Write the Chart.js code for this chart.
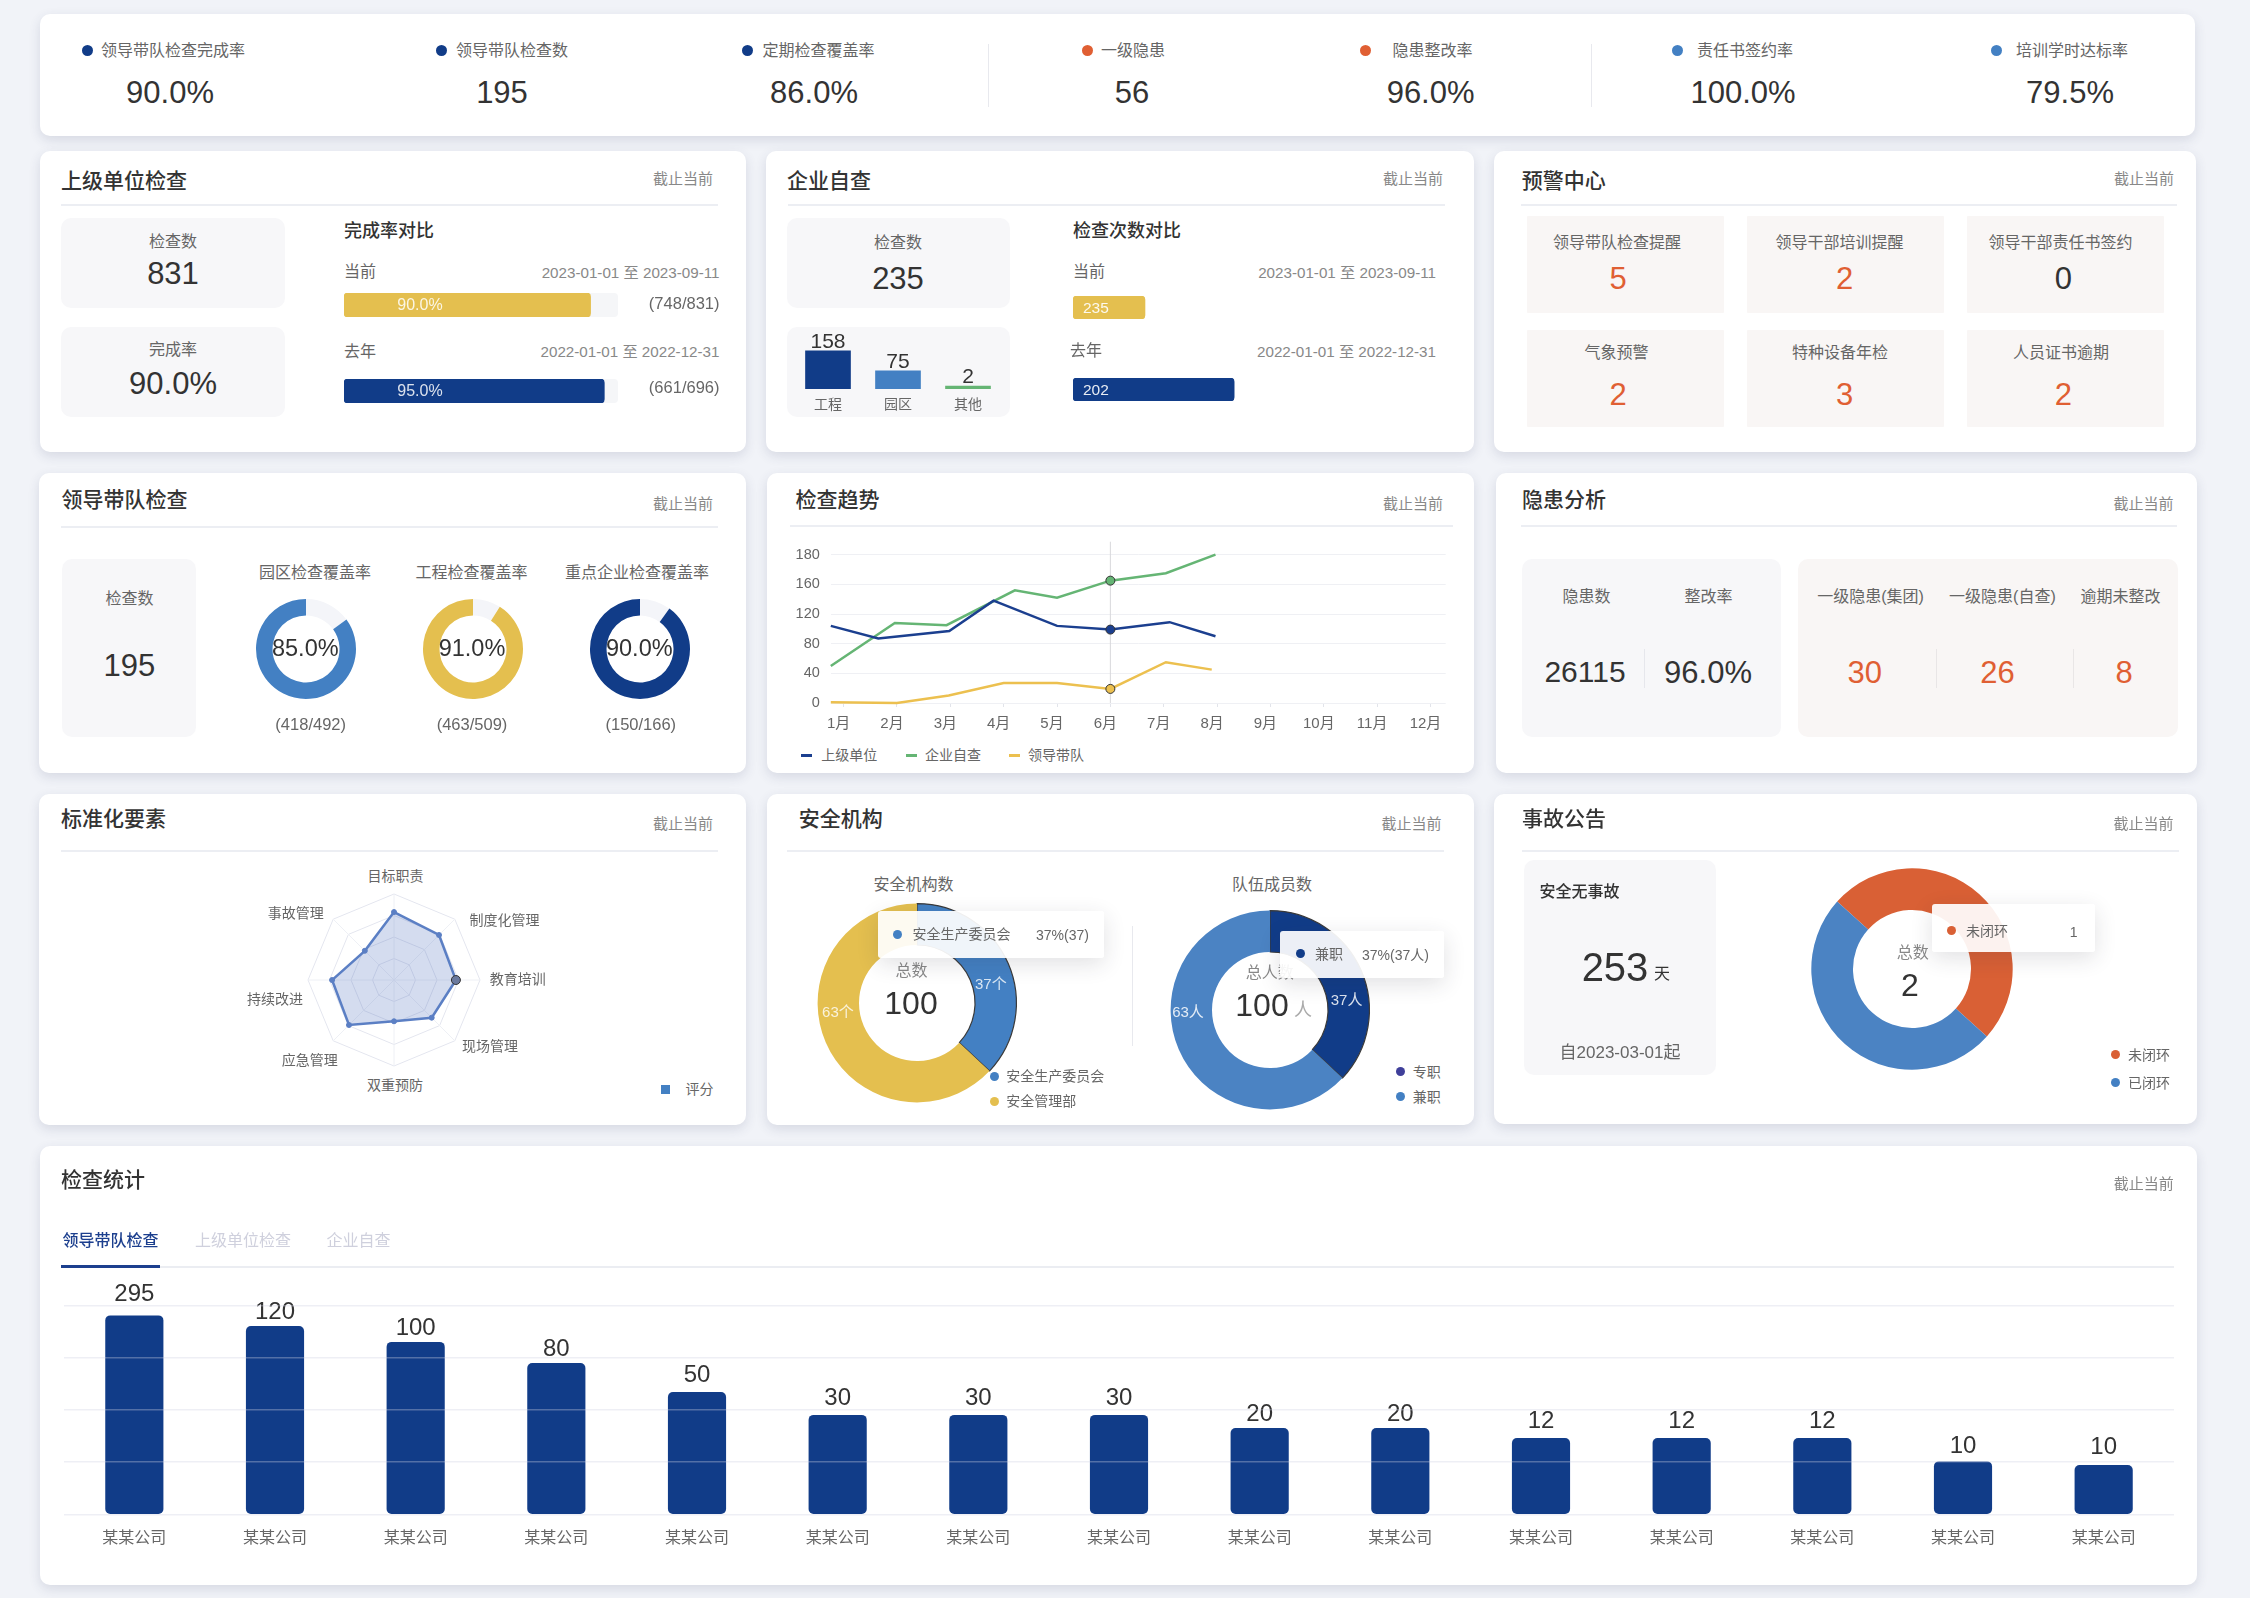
<!DOCTYPE html>
<html lang="zh-CN">
<head>
<meta charset="utf-8">
<title>安全看板</title>
<style>
  html, body { margin: 0; padding: 0; width: 2250px; height: 1598px; overflow: hidden; background: #f1f3f8;
    font-family: "Liberation Sans", "Noto Sans CJK SC", sans-serif; }
  #stage { position: relative; width: 2250px; height: 1598px; }
  .card { position: absolute; background: #fff; border-radius: 10px; box-shadow: 0 4px 12px rgba(50,60,100,.14); }
  .box { position: absolute; }
  .t { position: absolute; white-space: nowrap; line-height: 1; }
  .tip { position: absolute; background: rgba(255,255,255,.92); border-radius: 3px; box-shadow: 0 6px 22px rgba(40,40,60,.14); }
  canvas { position: absolute; }
</style>
<script src="https://cdn.jsdelivr.net/npm/chart.js"></script>
</head>
<body>
<div id="stage"></div>
<script>
// ========== DATA ==========
const kpiLabels = ['领导带队检查完成率', '领导带队检查数', '定期检查覆盖率', '一级隐患', '隐患整改率', '责任书签约率', '培训学时达标率'];
const kpiValues = ['90.0%', '195', '86.0%', '56', '96.0%', '100.0%', '79.5%'];

const upperRates = [90, 95];
const upperRateTexts = ['90.0%', '95.0%'];
const upperCounts = ['(748/831)', '(661/696)'];
const selfCounts = [235, 202];
const selfCountMax = [1185, 455]; // the picture draws these two bars on different lengths
const selfTypes = ['工程', '园区', '其他'];
const selfTypeCounts = [158, 75, 2];

const alertLabels = ['领导带队检查提醒', '领导干部培训提醒', '领导干部责任书签约', '气象预警', '特种设备年检', '人员证书逾期'];
const alertValues = [5, 2, 0, 2, 3, 2];

const coverLabels = ['园区检查覆盖率', '工程检查覆盖率', '重点企业检查覆盖率'];
const coverRates = [85, 91, 90];
const coverCounts = ['(418/492)', '(463/509)', '(150/166)'];

const months = ['1月', '2月', '3月', '4月', '5月', '6月', '7月', '8月', '9月', '10月', '11月', '12月'];
const trendTicks = ['0', '40', '80', '120', '160', '180']; // printed like this, gridlines are evenly spaced
const trendNames = ['上级单位', '企业自查', '领导带队'];
// points sit a bit off the month ticks in the picture, so x is read as well
const upperX = [0.76, 1.65, 2.98, 3.81, 5, 6, 7.11, 7.97];
const upperY = [104, 87, 97, 138, 104, 99, 109, 90];
const selfX = [0.76, 1.96, 2.93, 4.21, 5, 6, 7.04, 7.97];
const selfY = [50, 108, 105, 152, 142, 165, 175, 200];
const leaderX = [0.76, 2, 2.97, 4, 5, 6, 7.04, 7.9];
const leaderY = [1, 0, 10, 27, 27, 19, 55, 45];

const radarLabels = ['目标职责', '制度化管理', '教育培训', '现场管理', '双重预防', '应急管理', '持续改进', '事故管理'];
const radarScores = [79, 74, 72, 62, 48, 74, 72, 48];

const orgNames = ['安全生产委员会', '安全管理部'];
const orgCounts = [37, 63];
const teamNames = ['专职', '兼职'];
const teamCounts = [37, 63];
const accidentNames = ['未闭环', '已闭环'];
const accidentCounts = [1, 1];

const statCompanies = Array(15).fill('某某公司');
const statPrinted = [295, 120, 100, 80, 50, 30, 30, 30, 20, 20, 12, 12, 12, 10, 10];
// bar heights read against the gridlines (0-100), the printed numbers do not scale with them
const statHeights = [95.2, 90.1, 82.5, 72.4, 58.5, 47.5, 47.5, 47.5, 41.2, 41.2, 36.4, 36.4, 36.4, 25.2, 23.5];

// ========== COLORS ==========
const NAVY = '#113c88', BLUE = '#4380c3', SOFTBLUE = '#4b83c3', GOLD = '#e4bf4f', ORANGE = '#e05f33', RUST = '#d96035';
const GREEN = '#65b574', INK = '#333', TEXT = '#666', MUTED = '#888', PANEL = '#f7f7f9', WARM = '#f9f6f5';

// ========== HELPERS ==========
const stage = document.getElementById('stage');
Chart.defaults.font.family = '"Liberation Sans", "Noto Sans CJK SC", sans-serif';
Chart.defaults.animation = false;
Chart.defaults.responsive = false;
Chart.defaults.plugins.legend.display = false;
Chart.defaults.plugins.tooltip.enabled = false;

function card(x, y, w, h) {
  const d = document.createElement('div');
  d.className = 'card';
  d.style.cssText = `left:${x}px;top:${y}px;width:${w}px;height:${h}px`;
  stage.appendChild(d);
}
function box(x, y, w, h, bg, radius = 10, cls = 'box') {
  const d = document.createElement('div');
  d.className = cls;
  d.style.cssText = `left:${x}px;top:${y}px;width:${w}px;height:${h}px;background:${bg};border-radius:${radius}px`;
  stage.appendChild(d);
}
function tip(x, y, w, h) {
  const d = document.createElement('div');
  d.className = 'tip';
  d.style.cssText = `left:${x}px;top:${y}px;width:${w}px;height:${h}px`;
  stage.appendChild(d);
}
// a = 'l' | 'c' | 'r', y is the vertical middle of the text
function put(text, x, y, size = 16, color = TEXT, a = 'c', weight = 400) {
  const d = document.createElement('div');
  d.className = 't';
  const tx = a === 'c' ? '-50%' : a === 'r' ? '-100%' : '0';
  d.style.cssText = `left:${x}px;top:${y}px;font-size:${size}px;color:${color};font-weight:${weight};transform:translate(${tx},-50%)`;
  d.textContent = text;
  stage.appendChild(d);
}
function dot(x, y, color, r = 5.5) {
  box(x - r, y - r, r * 2, r * 2, color, r);
}
function head(title, x, y, x0, x1, rightX, divY, rightY) {
  put(title, x, y, 21, INK, 'l', 500);
  put('截止当前', rightX, rightY, 15, MUTED, 'r');
  box(x0, divY, x1 - x0, 2, '#eceef3', 0);
}
function canvas(x, y, w, h) {
  const c = document.createElement('canvas');
  c.width = w; c.height = h;
  c.style.cssText = `left:${x}px;top:${y}px;width:${w}px;height:${h}px`;
  stage.appendChild(c);
  return c;
}

// writes text above each bar of the first dataset
const barTexts = {
  id: 'barTexts',
  afterDatasetsDraw(chart, _, o) {
    const ctx = chart.ctx;
    ctx.save();
    ctx.font = o.font;
    ctx.fillStyle = o.color;
    ctx.textAlign = 'center';
    ctx.textBaseline = 'middle';
    chart.getDatasetMeta(0).data.forEach((bar, i) => ctx.fillText(o.texts[i], bar.x, bar.y - (o.gaps ? o.gaps[i] : o.gap)));
    ctx.restore();
  }
};

function rateBar(x, y, w, h, value, max, color) {
  new Chart(canvas(x, y, w, h), {
    type: 'bar',
    data: { labels: [''], datasets: [{ data: [value], backgroundColor: color, borderRadius: 4, borderSkipped: false, barPercentage: 1, categoryPercentage: 1 }] },
    options: { indexAxis: 'y', scales: { x: { display: false, min: 0, max }, y: { display: false } } }
  });
}
function donut(cx, cy, radius, hole, data, colors, extra = {}) {
  const half = Math.ceil(radius) + 4;
  new Chart(canvas(Math.round(cx - half), Math.round(cy - half), half * 2, half * 2), {
    type: 'doughnut',
    data: { labels: data.map(String), datasets: [{ data, backgroundColor: colors, borderWidth: extra.borderWidth || 0, borderColor: extra.borderColor || '#fff', hoverOffset: 0 }] },
    options: { radius, cutout: (hole / radius * 100) + '%', rotation: extra.rotation || 0 }
  });
}

// ========== TOP KPI ==========
card(40, 14, 2155, 122);
const kpiDots = [87, 441, 747.5, 1087, 1365, 1677, 1996.6];
const kpiTextX = [101, 456, 762.5, 1101, 1392.6, 1697, 2016];
const kpiValueX = [170, 502, 814, 1132, 1430.6, 1743, 2070];
const kpiColors = [NAVY, NAVY, NAVY, ORANGE, ORANGE, BLUE, BLUE];
kpiLabels.forEach((label, i) => {
  dot(kpiDots[i], 50.7, kpiColors[i]);
  put(label, kpiTextX[i], 51, 16, TEXT, 'l');
  put(kpiValues[i], kpiValueX[i], 92, 31, INK);
});
box(988, 44, 1, 63, '#e8e9ee', 0);
box(1590.6, 44, 1, 63, '#e8e9ee', 0);

// ========== 上级单位检查 ==========
card(40, 151, 706, 301);
head('上级单位检查', 61, 180, 61, 718, 713, 204, 178);
box(61, 218, 224, 90, PANEL);
put('检查数', 173, 242);
put('831', 173, 273, 31, INK);
box(61, 327, 224, 90, PANEL);
put('完成率', 173, 350);
put('90.0%', 173, 383, 31, INK);
put('完成率对比', 344, 231, 18, INK, 'l', 500);
put('当前', 344, 272, 16, TEXT, 'l');
put('2023-01-01 至 2023-09-11', 719.5, 273, 15.2, MUTED, 'r');
box(344, 293, 274, 24, '#f5f6f8', 4);
rateBar(344, 293, 274, 24, upperRates[0], 100, GOLD);
put(upperRateTexts[0], 420, 305, 16, 'rgba(255,255,255,.85)');
put(upperCounts[0], 719.5, 303, 16.5, TEXT, 'r');
put('去年', 344, 352, 16, TEXT, 'l');
put('2022-01-01 至 2022-12-31', 719.5, 352, 15.2, MUTED, 'r');
box(344, 379, 274, 24, '#f5f6f8', 4);
rateBar(344, 379, 274, 24, upperRates[1], 100, NAVY);
put(upperRateTexts[1], 420, 391, 16, 'rgba(255,255,255,.85)');
put(upperCounts[1], 719.5, 387, 16.5, TEXT, 'r');

// ========== 企业自查 ==========
card(766, 151, 708, 301);
head('企业自查', 787, 180, 788, 1445, 1443, 204, 178);
box(787, 218, 223, 90, PANEL);
put('检查数', 898, 243);
put(String(selfCounts[0]), 898, 278, 31, INK);
box(787, 327, 223, 90, PANEL);
new Chart(canvas(793, 320, 210, 97), {
  type: 'bar',
  data: { labels: selfTypes, datasets: [{ data: selfTypeCounts, backgroundColor: [NAVY, BLUE, GREEN], barThickness: 45, minBarLength: 3 }] },
  options: {
    layout: { padding: { top: 10 } },
    plugins: { barTexts: { texts: selfTypeCounts, font: '21px "Liberation Sans"', color: INK, gap: 9 } },
    scales: {
      x: { grid: { display: false, drawTicks: false }, border: { display: false }, ticks: { color: TEXT, font: { size: 14 }, padding: 8 }, afterFit: s => { s.height = 28; } },
      y: { min: 0, max: 245, display: false }
    }
  },
  plugins: [barTexts]
});
put('检查次数对比', 1073, 231, 18, INK, 'l', 500);
put('当前', 1073, 272, 16, TEXT, 'l');
put('2023-01-01 至 2023-09-11', 1436, 273, 15.2, MUTED, 'r');
rateBar(1073, 296, 363, 23, selfCounts[0], selfCountMax[0], GOLD);
put(String(selfCounts[0]), 1083, 308, 15.5, 'rgba(255,255,255,.9)', 'l');
put('去年', 1070, 351, 16, TEXT, 'l');
put('2022-01-01 至 2022-12-31', 1436, 352, 15.2, MUTED, 'r');
rateBar(1073, 378, 363, 23, selfCounts[1], selfCountMax[1], NAVY);
put(String(selfCounts[1]), 1083, 390, 15.5, 'rgba(255,255,255,.9)', 'l');

// ========== 预警中心 ==========
card(1494, 151, 702, 301);
head('预警中心', 1521.7, 180, 1521, 2177, 2174, 204, 178);
const tileX = [1527.4, 1747, 1967];
const tileY = [216, 330];
const alertTextX = [1617, 1839.5, 2060.5, 1616.5, 1840, 2061];
const alertValueX = [1618, 1844.5, 2063.3];
alertLabels.forEach((label, i) => {
  const row = i < 3 ? 0 : 1, col = i % 3;
  box(tileX[col], tileY[row], 197, 97, WARM, 1);
  put(label, alertTextX[i], row ? 352.7 : 243, 16);
  put(String(alertValues[i]), alertValueX[col], row ? 393.7 : 278, 31, alertValues[i] ? ORANGE : INK);
});

// ========== 领导带队检查 ==========
card(39, 473, 707, 300);
head('领导带队检查', 61.5, 499, 61, 718, 713, 526, 503);
box(61.5, 558.7, 134.5, 178.3, PANEL);
put('检查数', 129.4, 599);
put('195', 129.4, 664.7, 31, INK);
const coverCx = [306.3, 473, 640.3];
const coverTitleX = [315, 471.6, 637];
const coverCountX = [310.7, 472, 640.8];
const coverColors = [BLUE, GOLD, NAVY];
coverLabels.forEach((label, i) => {
  put(label, coverTitleX[i], 572.7);
  donut(coverCx[i], 648.7, 50, 33.5, [100 - coverRates[i], coverRates[i]], ['#f4f5f9', coverColors[i]]);
  put(coverRates[i].toFixed(1) + '%', coverCx[i] - 1, 648.7, 23.5, INK);
  put(coverCounts[i], coverCountX[i], 724, 16.5);
});

// ========== 检查趋势 ==========
card(767, 473, 707, 300);
head('检查趋势', 795.4, 499, 790, 1453, 1443, 525, 503);
const crosshair = {
  id: 'crosshair',
  beforeDatasetsDraw(chart) {
    const { ctx, chartArea, scales } = chart;
    const x = scales.x.getPixelForValue(6);
    ctx.save();
    ctx.strokeStyle = '#d8d8dc';
    ctx.beginPath();
    ctx.moveTo(x, chartArea.top - 13);
    ctx.lineTo(x, chartArea.bottom);
    ctx.stroke();
    ctx.restore();
  }
};
const trendSet = (label, xs, ys, color) => ({
  label,
  data: xs.map((x, i) => ({ x, y: ys[i] })),
  borderColor: color,
  borderWidth: 2.5,
  tension: 0,
  clip: false,
  pointRadius: c => (c.dataIndex === 5 ? 4.5 : 0),
  pointBackgroundColor: color,
  pointBorderColor: '#333',
  pointBorderWidth: 1
});
new Chart(canvas(790, 535, 665, 205), {
  type: 'line',
  data: { datasets: [
    trendSet(trendNames[0], upperX, upperY, '#1b3f8f'),
    trendSet(trendNames[1], selfX, selfY, GREEN),
    trendSet(trendNames[2], leaderX, leaderY, '#ecc04f')
  ] },
  options: {
    layout: { padding: { top: 17, right: 9.3 } },
    scales: {
      x: {
        type: 'linear', min: 0.76, max: 12.285,
        grid: { drawOnChartArea: false, tickLength: 4, color: '#e2e4ea' },
        border: { display: false },
        ticks: { stepSize: 1, includeBounds: false, autoSkip: false, maxRotation: 0, color: TEXT, font: { size: 15 }, padding: 8, labelOffset: -5, callback: v => months[v - 1] },
        afterFit: s => { s.height = 37; }
      },
      y: {
        min: 0, max: 200,
        grid: { color: '#eff0f4', drawTicks: false },
        border: { display: false },
        ticks: { stepSize: 40, color: TEXT, font: { size: 14.5 }, padding: 11, callback: v => trendTicks[v / 40] },
        afterFit: s => { s.width = 40.8; }
      }
    }
  },
  plugins: [crosshair]
});
const legendDash = [[801, 821.3], [906, 925], [1009, 1028]];
const trendColors = ['#1b3f8f', GREEN, '#ecc04f'];
trendNames.forEach((name, i) => {
  box(legendDash[i][0], 754, 11, 2.5, trendColors[i], 0);
  put(name, legendDash[i][1], 755, 14, TEXT, 'l');
});

// ========== 隐患分析 ==========
card(1496, 473, 701, 300);
head('隐患分析', 1522, 499, 1521, 2177, 2173.5, 525, 503);
box(1522, 558.7, 259, 178.3, PANEL);
put('隐患数', 1586.5, 596.7);
put('整改率', 1708.6, 596.7);
put('26115', 1585, 671.7, 30, INK);
put('96.0%', 1708, 671.7, 31, INK);
box(1644, 649, 1, 39, '#e6e7ec', 0);
box(1798, 558.7, 380, 178.3, WARM);
put('一级隐患(集团)', 1870.5, 596.7);
put('一级隐患(自查)', 2002.4, 596.7);
put('逾期未整改', 2120.6, 596.7);
put('30', 1864.7, 671.7, 31, ORANGE);
put('26', 1997.5, 671.7, 31, ORANGE);
put('8', 2124, 671.7, 31, ORANGE);
box(1935.5, 649, 1, 39, '#e9e6e6', 0);
box(2073, 649, 1, 39, '#e9e6e6', 0);

// ========== 标准化要素 ==========
card(39, 794, 707, 331);
head('标准化要素', 61, 818.3, 61, 718, 713, 849.5, 822.7);
new Chart(canvas(304, 890, 180, 180), {
  type: 'radar',
  data: { labels: radarLabels, datasets: [{
    label: '评分', data: radarScores,
    borderColor: '#5b7fc4', borderWidth: 2.5, backgroundColor: 'rgba(75,110,190,.24)', fill: true,
    pointRadius: c => (c.dataIndex === 2 ? 4.5 : 2.5),
    pointBackgroundColor: c => (c.dataIndex === 2 ? '#6b7a9e' : '#5b7fc4'),
    pointBorderColor: c => (c.dataIndex === 2 ? '#333' : '#5b7fc4'),
    pointBorderWidth: 1
  }] },
  options: {
    layout: { padding: 4 },
    scales: { r: {
      min: 0, max: 100,
      ticks: { display: false, stepSize: 25 },
      pointLabels: { display: false },
      grid: { color: '#e4e6ef' },
      angleLines: { color: '#eef0f5' }
    } }
  }
});
const radarTextAt = [[395.5, 876], [504.6, 920], [517.7, 979], [490, 1046], [395, 1085], [309.7, 1060], [275, 999], [295.7, 912.7]];
radarLabels.forEach((label, i) => put(label, radarTextAt[i][0], radarTextAt[i][1], 14));
box(660.7, 1084.5, 9.7, 9.3, BLUE, 0);
put('评分', 685.4, 1089, 14, TEXT, 'l');

// ========== 安全机构 ==========
card(767, 794, 707, 331);
head('安全机构', 798.7, 818.3, 787, 1444, 1441.5, 849.5, 822.7);
put('安全机构数', 913.4, 884.7);
put('队伍成员数', 1272, 884.7);
donut(917, 1002.8, 99.4, 58, orgCounts, [BLUE, GOLD], { borderWidth: [1.2, 0], borderColor: ['#3a3a3a', '#fff'] });
put(orgCounts[0] + '个', 990.8, 982.7, 15, 'rgba(255,255,255,.8)');
put(orgCounts[1] + '个', 837.9, 1011, 15, 'rgba(255,255,255,.8)');
put('总数', 911.5, 970.7, 16, MUTED);
put('100', 911, 1002.7, 32, INK);
box(1132.3, 926, 1, 120, '#e8e9ee', 0);
donut(1270.4, 1009.7, 99.4, 58, teamCounts, [NAVY, SOFTBLUE], { borderWidth: [1.2, 0], borderColor: ['#3a3a3a', '#fff'] });
put(teamCounts[0] + '人', 1346.6, 999.3, 15, 'rgba(255,255,255,.85)');
put(teamCounts[1] + '人', 1188, 1011, 15, 'rgba(255,255,255,.85)');
put('总人数', 1269.7, 973.3, 16, MUTED);
put('100', 1262, 1005, 32, INK);
put('人', 1303, 1010, 18, '#aaa');
dot(994, 1076, BLUE, 4.5);
put(orgNames[0], 1006.3, 1076, 14, TEXT, 'l');
dot(994, 1101, GOLD, 4.5);
put(orgNames[1], 1006.3, 1101, 14, TEXT, 'l');
dot(1400.4, 1071.7, '#3f3f9a', 4.5);
put(teamNames[0], 1412.7, 1071.7, 14, TEXT, 'l');
dot(1400.4, 1096.7, BLUE, 4.5);
put(teamNames[1], 1412.7, 1096.7, 14, TEXT, 'l');
tip(878, 911, 226, 47);
dot(897.3, 934, BLUE, 4.5);
put(orgNames[0], 912.4, 934, 14, TEXT, 'l');
put(`${orgCounts[0]}%(${orgCounts[0]})`, 1036, 935, 14, TEXT, 'l');
tip(1280, 931, 164, 47);
dot(1300, 953.7, NAVY, 4.5);
put(teamNames[1], 1315, 953.7, 14, TEXT, 'l');
put(`${teamCounts[0]}%(${teamCounts[0]}人)`, 1362, 954.7, 14, TEXT, 'l');

// ========== 事故公告 ==========
card(1494, 794, 703, 330);
head('事故公告', 1522, 818.3, 1522, 2179, 2173.5, 849.5, 822.7);
box(1524.4, 860.3, 192, 214.7, PANEL);
put('安全无事故', 1539.4, 891.7, 16, INK, 'l', 500);
put('253', 1615, 967, 40, INK);
put('天', 1662, 974, 16, INK);
put('自2023-03-01起', 1620, 1052.3, 17);
donut(1912, 968.7, 100.7, 59, accidentCounts, [RUST, SOFTBLUE], { rotation: -48 });
put('总数', 1912.7, 953.3, 16, MUTED);
put('2', 1910, 985, 32, INK);
dot(2115.8, 1054.7, RUST, 4.5);
put(accidentNames[0], 2128, 1054.7, 14, TEXT, 'l');
dot(2115.8, 1082.7, BLUE, 4.5);
put(accidentNames[1], 2128, 1082.7, 14, TEXT, 'l');
tip(1931.6, 904, 163.4, 47.7);
dot(1951, 930.7, RUST, 4.5);
put(accidentNames[0], 1966, 930.7, 14, TEXT, 'l');
put(String(accidentCounts[0]), 2073.6, 931.7, 14);

// ========== 检查统计 ==========
card(40, 1146, 2157, 439);
put('检查统计', 61, 1179, 21, INK, 'l', 500);
put('截止当前', 2173.7, 1183, 15, MUTED, 'r');
put('领导带队检查', 62.4, 1240.7, 16, '#1c3f8e', 'l', 500);
put('上级单位检查', 195, 1240.7, 16, '#cfd0dd', 'l');
put('企业自查', 326.4, 1240.7, 16, '#cfd0dd', 'l');
box(61, 1266, 2113, 2, '#ebedf2', 0);
box(61, 1265, 99, 3, '#1c3f8e', 0);
const statTextGaps = [21, 13.6, 13.6, 14, 17, 17, 17, 17, 14, 14, 17, 17, 17, 15, 18];
new Chart(canvas(64, 1280, 2110, 280), {
  type: 'bar',
  data: { labels: statCompanies, datasets: [{ data: statHeights, backgroundColor: NAVY, barThickness: 57.5, borderRadius: 5, borderSkipped: false }] },
  options: {
    layout: { padding: { top: 25.7 } },
    plugins: { barTexts: { texts: statPrinted, font: '24px "Liberation Sans"', color: INK, gaps: statTextGaps } },
    scales: {
      x: {
        grid: { display: false, drawTicks: false }, border: { display: false },
        ticks: { color: TEXT, font: { size: 16 }, padding: 15, maxRotation: 0, autoSkip: false },
        afterFit: s => { s.height = 45.7; }
      },
      y: {
        min: 0, max: 100,
        grid: { color: 'rgba(205,210,225,.35)', z: 1, drawTicks: false, lineWidth: 1.5 },
        border: { display: false },
        ticks: { display: false, stepSize: 25 }
      }
    }
  },
  plugins: [barTexts]
});
</script>
</body>
</html>
